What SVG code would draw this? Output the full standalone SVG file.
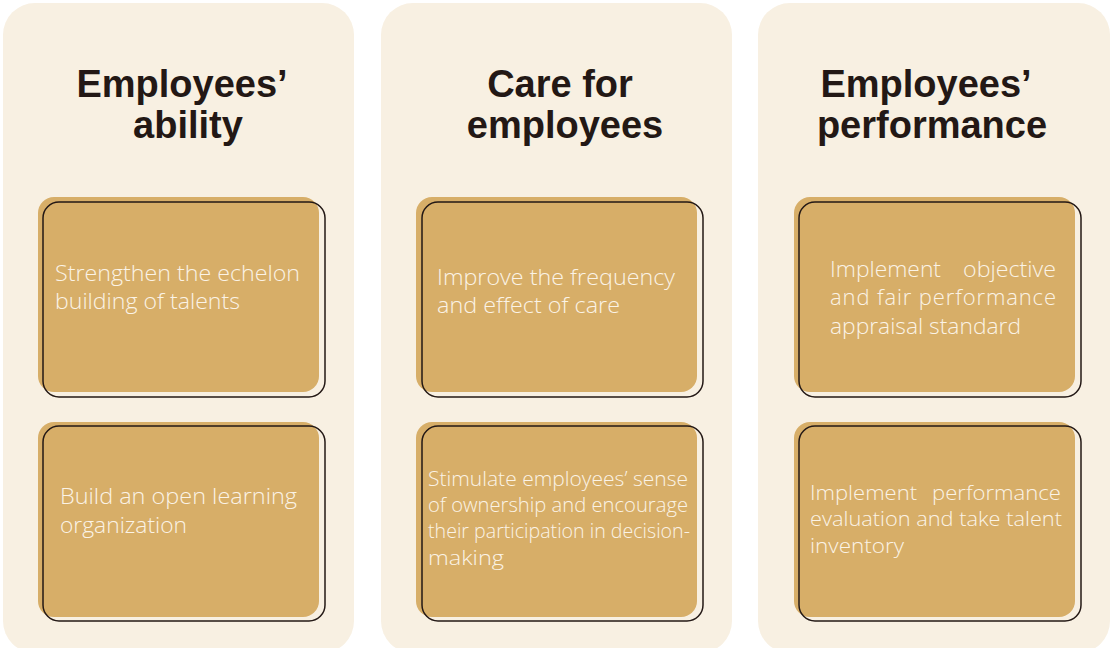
<svg xmlns="http://www.w3.org/2000/svg" width="1112" height="648" viewBox="0 0 1112 648">
<style>
.panel{fill:#F8F0E2}
.fill{fill:#D7AE68}
.outline{fill:none;stroke:#231815;stroke-width:1.5}
.title{font-family:"Liberation Sans",Arial,sans-serif;font-weight:bold;font-size:38px;fill:#231815;text-anchor:middle}
.txt{font-family:"Open Sans","Noto Sans",sans-serif;font-weight:300;font-size:22px;fill:#FBF3E6}
.cond{font-size:20px}
.tight{font-size:20px}
</style>
<rect width="1112" height="648" fill="#FFFFFF"/>
<g id="panel-ability">
<rect class="panel" x="3" y="3" width="351" height="650" rx="32"/>
<text class="title" x="182" y="97">Employees’</text>
<text class="title" x="188" y="138">ability</text>
</g>
<g id="panel-care">
<rect class="panel" x="381" y="3" width="351" height="650" rx="32"/>
<text class="title" x="560" y="97">Care for</text>
<text class="title" x="565" y="138">employees</text>
</g>
<g id="panel-performance">
<rect class="panel" x="758" y="3" width="352" height="650" rx="32"/>
<text class="title" x="926" y="97">Employees’</text>
<text class="title" x="932" y="138">performance</text>
</g>
<g id="card-echelon">
<rect class="fill" x="38" y="197" width="281" height="195" rx="16"/>
<rect class="outline" x="43" y="202" width="282" height="195" rx="16"/>
<text class="txt"><tspan x="55" y="281" textLength="245" lengthAdjust="spacingAndGlyphs">Strengthen the echelon</tspan><tspan x="55" y="309" textLength="185" lengthAdjust="spacingAndGlyphs">building of talents</tspan></text>
</g>
<g id="card-learning">
<rect class="fill" x="38" y="422" width="281" height="195" rx="16"/>
<rect class="outline" x="43" y="426" width="282" height="195" rx="16"/>
<text class="txt"><tspan x="60" y="504" textLength="237" lengthAdjust="spacingAndGlyphs">Build an open learning</tspan><tspan x="60" y="533" textLength="127" lengthAdjust="spacingAndGlyphs">organization</tspan></text>
</g>
<g id="card-frequency">
<rect class="fill" x="416" y="197" width="281" height="195" rx="16"/>
<rect class="outline" x="422" y="202" width="281" height="195" rx="16"/>
<text class="txt"><tspan x="437" y="285" textLength="238" lengthAdjust="spacingAndGlyphs">Improve the frequency</tspan><tspan x="437" y="313" textLength="183" lengthAdjust="spacingAndGlyphs">and effect of care</tspan></text>
</g>
<g id="card-ownership">
<rect class="fill" x="416" y="422" width="281" height="195" rx="16"/>
<rect class="outline" x="422" y="426" width="281" height="195" rx="16"/>
<text class="txt cond"><tspan x="428" y="486" textLength="260" lengthAdjust="spacingAndGlyphs">Stimulate employees’ sense</tspan><tspan x="428" y="512" textLength="260" lengthAdjust="spacingAndGlyphs">of ownership and encourage</tspan><tspan x="428" y="538" textLength="262" lengthAdjust="spacingAndGlyphs">their participation in decision-</tspan><tspan x="428" y="565" textLength="76" lengthAdjust="spacingAndGlyphs">making</tspan></text>
</g>
<g id="card-appraisal">
<rect class="fill" x="794" y="197" width="281" height="195" rx="16"/>
<rect class="outline" x="799" y="202" width="282" height="195" rx="16"/>
<text class="txt"><tspan x="830" y="277" textLength="111" lengthAdjust="spacingAndGlyphs">Implement</tspan><tspan x="963" y="277" textLength="93" lengthAdjust="spacingAndGlyphs">objective</tspan><tspan x="830" y="305" textLength="226" lengthAdjust="spacing">and fair performance</tspan><tspan x="830" y="334" textLength="191" lengthAdjust="spacingAndGlyphs">appraisal standard</tspan></text>
</g>
<g id="card-evaluation">
<rect class="fill" x="794" y="422" width="281" height="195" rx="16"/>
<rect class="outline" x="799" y="426" width="282" height="195" rx="16"/>
<text class="txt tight"><tspan x="810" y="500" textLength="107" lengthAdjust="spacingAndGlyphs">Implement</tspan><tspan x="932" y="500" textLength="129" lengthAdjust="spacingAndGlyphs">performance</tspan><tspan x="810" y="526" textLength="252" lengthAdjust="spacingAndGlyphs">evaluation and take talent</tspan><tspan x="810" y="553" textLength="94" lengthAdjust="spacingAndGlyphs">inventory</tspan></text>
</g>
<g id="connectors"></g>
</svg>
